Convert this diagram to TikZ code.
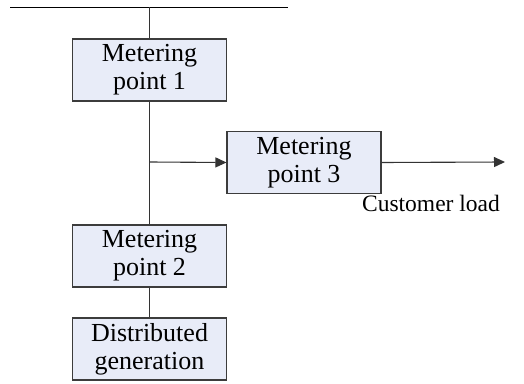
\documentclass[tikz,border=0pt]{standalone}
\usepackage{fontspec}
\setmainfont{Liberation Serif}
\usetikzlibrary{arrows.meta}
\definecolor{boxfill}{RGB}{232,236,248}
\definecolor{lncol}{RGB}{60,60,60}
\begin{document}
\begin{tikzpicture}[x=1pt,y=1pt,
  mbox/.style={draw=lncol,line width=1.1pt,fill=boxfill,minimum width=154pt,minimum height=62pt,inner sep=0pt,align=center,font=\fontsize{26}{28}\selectfont},
  conn/.style={draw=black!80,line width=1.1pt},
  arr/.style={conn,-{Triangle[length=11pt,width=10pt]}}]
\useasboundingbox (0,0) rectangle (524,383);
\coordinate (busL) at (10,375.5);
\coordinate (busR) at (288,375.5);
\coordinate (busT) at (149,375.5);
\draw[line width=1.3pt] (busL) -- (busR);
\node[mbox] (m1) at (149.5,313) {Metering\\point 1};
\node[mbox] (m3) at (304,220.5) {Metering\\point 3};
\node[mbox] (m2) at (149.5,127) {Metering\\point 2};
\node[mbox] (dg) at (149.5,34) {Distributed\\generation};
\coordinate (br) at (149.5,221);
\coordinate (out) at (505,221);
\node[font=\fontsize{23.5}{27}\selectfont,inner sep=0pt] (cl) at (431,180) {Customer load};
\draw[conn] (busT -| m1.north) -- (m1.north);
\draw[conn] (m1.south) -- (m2.north);
\draw[conn] (m2.south) -- (dg.north);
\draw[arr] (br) -- (m3.west);
\draw[arr] (m3.east) -- (out);
\end{tikzpicture}
\end{document}
